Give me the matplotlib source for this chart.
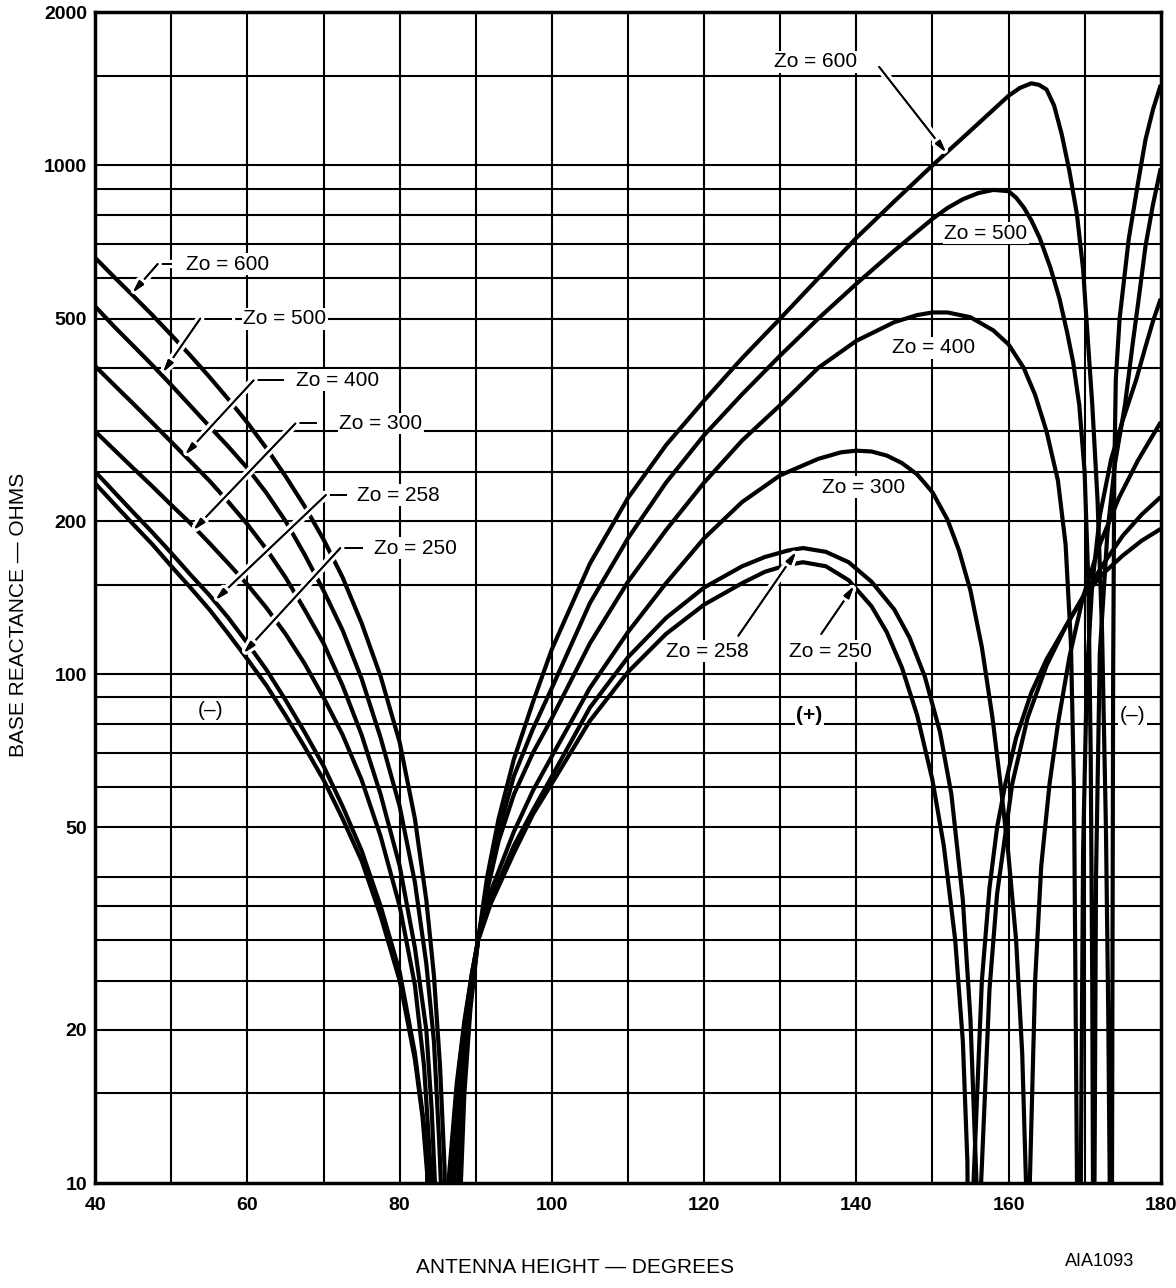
import matplotlib
matplotlib.use("Agg")
import matplotlib.pyplot as plt
import matplotlib.patheffects as pe

plt.rcParams['font.family'] = ['Liberation Sans', 'DejaVu Sans']

# base reactance curves; values below 10 run off the bottom
x600 = [40, 42.5, 45, 47.5, 50, 52.5, 55, 57.5, 60, 62.5, 65, 67.5, 70, 72.5, 75,
        77.5, 80, 82, 83.5, 84.5, 85.3, 85.9, 86.9,
        87.9, 88.5, 89.3, 90.3, 91.5, 93, 95, 97.5, 100, 105, 110, 115, 120, 125,
        130, 135, 140, 145, 150, 155, 160, 161.5, 163, 164, 165, 166, 167, 168,
        169, 169.8, 170.4, 171, 171.7, 172.3, 172.8, 173.1, 173.3, 173.45,
        173.6, 173.75, 173.9, 174.1, 174.6, 175.8, 177, 178, 179, 180]
y600 = [658, 603, 554, 508, 464, 423, 384, 347, 312, 278, 245, 214, 184, 155, 126,
        99, 73.5, 52, 36, 25.6, 17, 10.7, 1,
        8.8, 15, 22, 30, 40, 52, 68, 88, 112, 165, 222, 282, 345, 418,
        500, 600, 720, 850, 1000, 1170, 1370, 1420, 1450, 1440, 1410, 1310, 1150, 975,
        800, 625, 460, 340, 220, 120, 50, 22, 10, 1,
        10, 100, 250, 380, 500, 717, 920, 1124, 1290, 1440]

x500 = [40, 42.5, 45, 47.5, 50, 52.5, 55, 57.5, 60, 62.5, 65, 67.5, 70, 72.5, 75,
        77.5, 80, 82, 83.5, 84.5, 85.2, 85.6, 86.2,
        87.3, 88.5, 89.3, 90.3, 91.5, 93, 95, 97.5, 100, 105, 110, 115, 120, 125,
        130, 135, 140, 145, 150, 152, 154, 156, 158, 160, 161, 162, 163, 164.1, 165.5,
        166.7, 167.7, 168.5, 169.3, 170, 170.5, 170.8, 171.0, 171.1, 171.2,
        171.3, 171.5, 172, 173, 174, 175.3, 176.4, 177.2, 178, 179, 180]
y500 = [528, 482, 442, 405, 370, 337, 307, 280, 254, 227, 200, 172, 146, 122, 98,
        75, 55, 39, 27, 19, 12, 8.5, 1,
        8, 17, 22.6, 30, 38.5, 49, 63, 78, 94, 138, 185, 238, 295, 355,
        423, 500, 585, 680, 785, 825, 858, 882, 895, 890, 864, 827, 780, 720, 630,
        547, 470, 410, 338, 250, 150, 70, 25, 10, 1,
        10, 40, 110, 190, 260, 338, 456, 560, 694, 840, 987]

x400 = [40, 42.5, 45, 47.5, 50, 52.5, 55, 57.5, 60, 62.5, 65, 67.5, 70, 72.5, 75,
        77.5, 80, 82, 83.5, 84.2, 84.7, 85.6,
        86.6, 87.2, 88, 89, 90.3, 91.5, 93, 95, 97.5, 100, 105, 110, 115, 120, 125,
        130, 135, 140, 145, 148, 150, 152, 155, 158, 160, 162, 163.5, 165, 166.5,
        167.5, 168.2, 168.6, 169.0, 169.25,
        169.5, 169.8, 170.3, 171, 172, 173.5, 175, 176.8, 178, 179, 180]
y400 = [403, 370, 340, 312, 286, 262, 240, 218, 197, 176, 155, 134, 115, 95, 76,
        58, 42, 29, 20, 14, 9.5, 1,
        6.4, 10.2, 15.4, 21.8, 30, 37.5, 47, 58, 70, 82, 115, 152, 192, 238, 288,
        338, 400, 452, 492, 508, 514, 514, 503, 474, 445, 400, 354, 300, 240,
        180, 115, 60, 10, 1,
        10, 45, 100, 150, 205, 265, 315, 380, 440, 495, 547]

x300 = [40, 42.5, 45, 47.5, 50, 52.5, 55, 57.5, 60, 62.5, 65, 67.5, 70, 72.5, 75,
        77.5, 80, 82, 83.2, 84.1, 84.4, 85.0,
        86, 86.8, 87.5, 88.5, 89.5, 90.3, 92, 95, 97.5, 100, 105, 110, 115, 120,
        125, 130, 135, 138, 140, 142, 144, 146, 148, 150, 152, 153.5, 155, 156.5,
        157.9, 159, 160, 161, 161.8, 162.3, 162.55,
        162.8, 163.5, 164.3, 165.4, 166.5, 168, 169.8, 172, 174.5, 177, 180]
y300 = [300, 276, 254, 234, 215, 198, 181, 165, 150, 135, 120, 105, 90, 76, 62,
        48, 35, 24.5, 17, 10.5, 8, 1,
        5.7, 10.2, 14, 19.8, 25.5, 30, 37.5, 49, 59, 69, 94, 121, 151, 185,
        218, 246, 265, 273, 275, 274, 269, 260, 247, 228, 201, 175, 146, 113,
        82, 60, 44, 30, 18, 10, 1,
        10, 25, 42, 61, 80, 108, 142, 180, 222, 263, 313]

x258 = [40, 42.5, 45, 47.5, 50, 52.5, 55, 57.5, 60, 62.5, 65, 67.5, 70, 72.5, 75,
        77.5, 80, 82, 83.2, 83.8, 84.6,
        85.6, 86.5, 87.5, 88.5, 89.5, 90.3, 92, 95, 97.5, 100, 105, 110, 115, 120,
        125, 128, 131, 133, 136, 139, 142, 145, 147, 149, 151, 152.5, 154, 155,
        155.6, 155.8, 156.1,
        156.4, 157.5, 158.5, 160.5, 162.5, 165, 167.5, 169.8, 172.5, 175, 177.5, 180]
y258 = [250, 228, 208, 190, 173, 157, 143, 129, 115, 102, 89, 77, 66, 55, 45,
        35, 26, 18, 13, 10, 1,
        5.3, 10, 15.3, 20.5, 25.8, 30, 36, 46, 54, 63, 86, 108, 129, 148,
        163, 170, 175, 177, 174, 166, 152, 134, 118, 99, 77, 58, 36, 21,
        12, 10, 1,
        10, 24, 37, 61, 82, 104, 124, 142, 165, 187, 206, 223]

x250 = [40, 42.5, 45, 47.5, 50, 52.5, 55, 57.5, 60, 62.5, 65, 67.5, 70, 72.5, 75,
        77.5, 80, 82, 83, 83.6, 84.4,
        85.4, 86.4, 87.5, 88.5, 89.5, 90.3, 92, 95, 97.5, 100, 105, 110, 115, 120,
        125, 128, 131, 133, 136, 139, 142, 144, 146, 148, 150, 151.5, 153, 154,
        154.6, 155.0,
        155.4, 156.5, 157.5, 158.5, 159.6, 161, 163, 165, 167.5, 169.8, 172.5, 175,
        177.5, 180]
y250 = [237, 216, 197, 180, 163, 148, 134, 120, 107, 95, 83, 72, 62, 52, 43,
        33.5, 25, 17.5, 13.5, 10.5, 1,
        5, 10, 15.7, 20.8, 25.9, 30, 35.5, 44.5, 53, 61, 81, 101, 120, 137,
        151, 159, 164, 166, 163, 153, 136, 121, 103, 83, 62, 46, 30, 19,
        11, 1,
        10, 25, 38, 50, 61, 75, 92, 107, 124, 142, 158, 171,
        183, 193]

curves = [(x600, y600), (x500, y500), (x400, y400),
          (x300, y300), (x258, y258), (x250, y250)]

ygrid = [15, 20, 25, 30, 35, 40, 50, 60, 70, 80, 90, 100, 150, 200, 250,
         300, 400, 500, 600, 700, 800, 900, 1000, 1500]
ylabeled = [10, 20, 50, 100, 200, 500, 1000, 2000]
xticks = [40, 60, 80, 100, 120, 140, 160, 180]

fig = plt.figure(figsize=(11.76, 12.88), dpi=100)
ax = fig.add_axes([0.081, 0.0815, 0.906, 0.909])
ax.set_yscale('log')
ax.set_xlim(40, 180)
ax.set_ylim(10, 2000)

for g in ygrid:
    ax.axhline(g, color='black', lw=1.5, zorder=1)
for g in range(50, 180, 10):
    ax.axvline(g, color='black', lw=1.5, zorder=1)

for xs, ys in curves:
    ax.plot(xs, ys, color='black', lw=3.0, solid_joinstyle='round',
            solid_capstyle='butt', zorder=2)

ax.set_xticks(xticks)
ax.set_xticklabels([str(t) for t in xticks], fontsize=14, fontweight='bold')
ax.set_yticks(ylabeled)
ax.set_yticklabels([str(t) for t in ylabeled], fontsize=14, fontweight='bold')
ax.yaxis.set_minor_locator(matplotlib.ticker.NullLocator())
ax.tick_params(axis='y', length=0, pad=6)
ax.tick_params(axis='x', length=0, pad=10)
for s in ax.spines.values():
    s.set_linewidth(2.5)
    s.set_zorder(5)

halo = [pe.withStroke(linewidth=6, foreground='white'), pe.Normal()]
arrow_kw = dict(arrowstyle='-|>,head_length=0.7,head_width=0.18', color='black',
                lw=1.3, shrinkA=0, shrinkB=0, path_effects=halo)
label_kw = dict(fontsize=15, color='black', zorder=6,
                bbox=dict(facecolor='white', edgecolor='none', pad=1.0))

# left hand labels with bent leaders
left_labels = [("Zo = 600", 57.4, 640, 49.9, 48.2, 44.9, 562),
               ("Zo = 500", 64.9, 500, 57.8, 53.8, 48.9, 392),
               ("Zo = 400", 71.9, 378, 64.7, 60.8, 51.8, 270),
               ("Zo = 300", 77.5, 311, 69.0, 66.3, 52.9, 192),
               ("Zo = 258", 79.8, 225, 72.9, 70.3, 55.8, 140),
               ("Zo = 250", 82.1, 177, 75.1, 72.2, 59.5, 110)]
for txt, tx, ty, hx0, hx1, tipx, tipy in left_labels:
    ax.text(tx, ty, txt, ha='center', va='center', **label_kw)
    ax.plot([hx0, hx1], [ty, ty], color='black', lw=1.3, zorder=3, path_effects=halo)
    ax.annotate('', xy=(tipx, tipy), xytext=(hx1, ty), zorder=3, arrowprops=arrow_kw)

# right hand labels
ax.text(134.7, 1598, "Zo = 600", ha='center', va='center', **label_kw)
ax.annotate('', xy=(151.8, 1060), xytext=(143.0, 1562), zorder=3, arrowprops=arrow_kw)
ax.text(157.0, 736, "Zo = 500", ha='center', va='center', **label_kw)
ax.text(150.1, 438, "Zo = 400", ha='center', va='center', **label_kw)
ax.text(140.9, 233, "Zo = 300", ha='center', va='center', **label_kw)
ax.text(120.4, 111, "Zo = 258", ha='center', va='center', **label_kw)
ax.annotate('', xy=(132.1, 174), xytext=(124.5, 119), zorder=3, arrowprops=arrow_kw)
ax.text(136.6, 111, "Zo = 250", ha='center', va='center', **label_kw)
ax.annotate('', xy=(139.7, 149), xytext=(135.4, 120), zorder=3, arrowprops=arrow_kw)

ax.text(55.1, 85, "(\u2013)", ha='center', va='center', **label_kw)
ax.text(133.8, 83, "(+)", ha='center', va='center', fontsize=15, fontweight='bold',
        zorder=6, bbox=dict(facecolor='white', edgecolor='none', pad=1.0))
ax.text(176.3, 83, "(\u2013)", ha='center', va='center', **label_kw)

fig.text(0.489, 0.0085, "ANTENNA HEIGHT \u2014 DEGREES", ha='center', va='bottom', fontsize=15)
fig.text(0.016, 0.523, "BASE REACTANCE \u2014 OHMS", ha='center', va='center',
         rotation=90, fontsize=15)
fig.text(0.935, 0.014, "AIA1093", ha='center', va='bottom', fontsize=13)

fig.savefig("out.png", dpi=100)
